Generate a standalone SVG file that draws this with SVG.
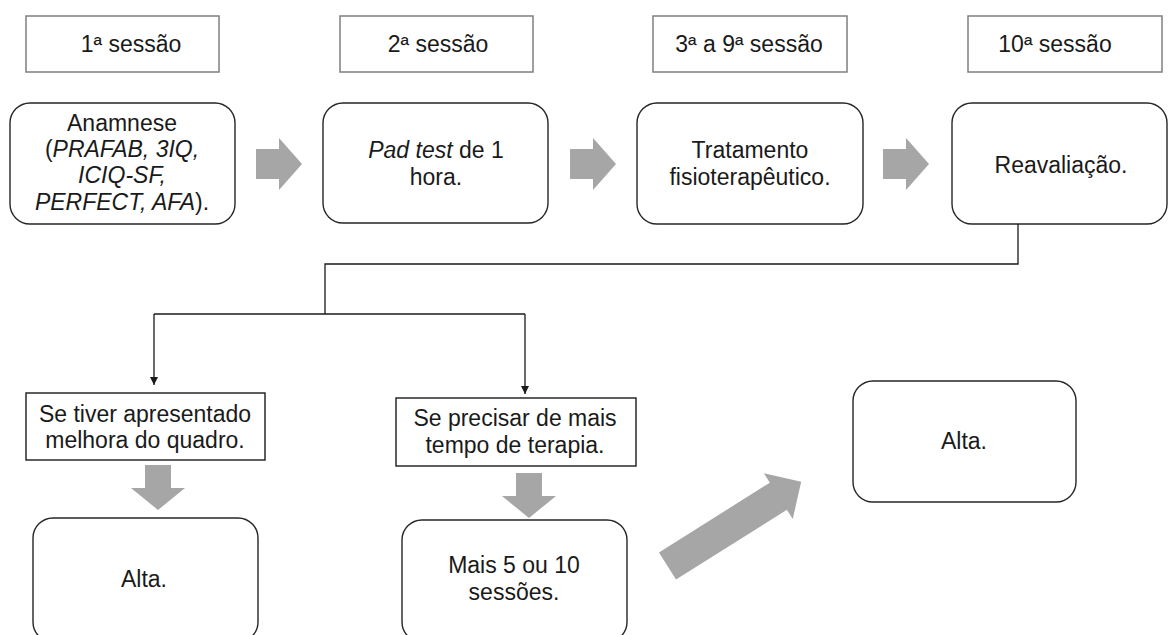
<svg xmlns="http://www.w3.org/2000/svg" width="1168" height="635" viewBox="0 0 1168 635">
<style>
text{font-family:"Liberation Sans",Arial,sans-serif;font-size:23px;fill:#1a1a1a;text-anchor:middle}
.lbl{fill:#fff;stroke:#7f7f7f;stroke-width:1.5}
.rnd{fill:#fff;stroke:#262626;stroke-width:1.4}
.sq{fill:#fff;stroke:#1a1a1a;stroke-width:1.4}
.blk{fill:#a6a6a6}
.con{fill:none;stroke:#1a1a1a;stroke-width:1.3}
.it{font-style:italic}
</style>
<defs>
<marker id="ah" markerWidth="9" markerHeight="10" refX="8" refY="4.5" orient="auto" markerUnits="userSpaceOnUse">
<path d="M0,0.5 L8,4.5 L0,8.5 Z" fill="#1a1a1a"/>
</marker>
<polygon id="arR" points="0,-15 23,-15 23,-26 46,0 23,26 23,15 0,15"/>
<polygon id="arD" points="-13,0 13,0 13,23 27,23 0,45 -27,23 -13,23"/>
</defs>
<rect width="1168" height="635" fill="#fff"/>

<g id="label1"><rect class="lbl" x="26" y="16" width="193" height="56"/><text x="131" y="52">1ª sessão</text></g>
<g id="label2"><rect class="lbl" x="340" y="16" width="193" height="56"/><text x="438" y="52">2ª sessão</text></g>
<g id="label3"><rect class="lbl" x="653" y="16" width="194" height="56"/><text x="749" y="52">3ª a 9ª sessão</text></g>
<g id="label4"><rect class="lbl" x="968" y="16" width="194" height="56"/><text x="1055" y="52">10ª sessão</text></g>

<g id="anamnese"><rect class="rnd" x="10" y="103" width="225" height="121" rx="20"/>
<text x="122" y="131">Anamnese</text>
<text x="122" y="157">(<tspan class="it">PRAFAB, 3IQ,</tspan></text>
<text x="122" y="183" class="it">ICIQ-SF,</text>
<text x="122" y="210"><tspan class="it">PERFECT, AFA</tspan>).</text></g>

<g id="padtest"><rect class="rnd" x="323" y="103" width="225" height="120" rx="20"/>
<text x="436" y="158"><tspan class="it">Pad test</tspan> de 1</text>
<text x="436" y="185">hora.</text></g>

<g id="tratamento"><rect class="rnd" x="637" y="103" width="226" height="121" rx="20"/>
<text x="750" y="158">Tratamento</text>
<text x="750" y="185">fisioterapêutico.</text></g>

<g id="reavaliacao"><rect class="rnd" x="952" y="103" width="215" height="121" rx="20"/>
<text x="1061" y="173">Reavaliação.</text></g>

<g id="se-tiver"><rect class="sq" x="26" y="393" width="239" height="67"/>
<text x="145" y="422">Se tiver apresentado</text>
<text x="145" y="448">melhora do quadro.</text></g>

<g id="se-precisar"><rect class="sq" x="396" y="398" width="240" height="68"/>
<text x="515" y="426">Se precisar de mais</text>
<text x="515" y="453">tempo de terapia.</text></g>

<g id="alta1"><rect class="rnd" x="33" y="518" width="225" height="124" rx="20"/>
<text x="144" y="587">Alta.</text></g>

<g id="mais"><rect class="rnd" x="402" y="520" width="225" height="122" rx="20"/>
<text x="514" y="573">Mais 5 ou 10</text>
<text x="514" y="600">sessões.</text></g>

<g id="alta2"><rect class="rnd" x="853" y="381" width="223" height="121" rx="20"/>
<text x="964" y="449">Alta.</text></g>

<g id="connectors">
<polyline class="con" points="1018,224 1018,264 325,264 325,314"/>
<polyline class="con" points="154,314 525,314"/>
<line class="con" x1="154" y1="314" x2="154" y2="385" marker-end="url(#ah)"/>
<line class="con" x1="525" y1="314" x2="525" y2="394" marker-end="url(#ah)"/>
<use href="#arR" class="blk" x="256" y="164"/>
<use href="#arR" class="blk" x="570" y="164"/>
<use href="#arR" class="blk" x="883" y="164"/>
<use href="#arD" class="blk" x="158" y="465"/>
<use href="#arD" class="blk" x="529" y="473"/>
<polygon class="blk" transform="translate(667.5,566) rotate(-32.2)" points="0,-16 131,-16 131,-27 158,0 131,27 131,16 0,16"/>
</g>
</svg>
